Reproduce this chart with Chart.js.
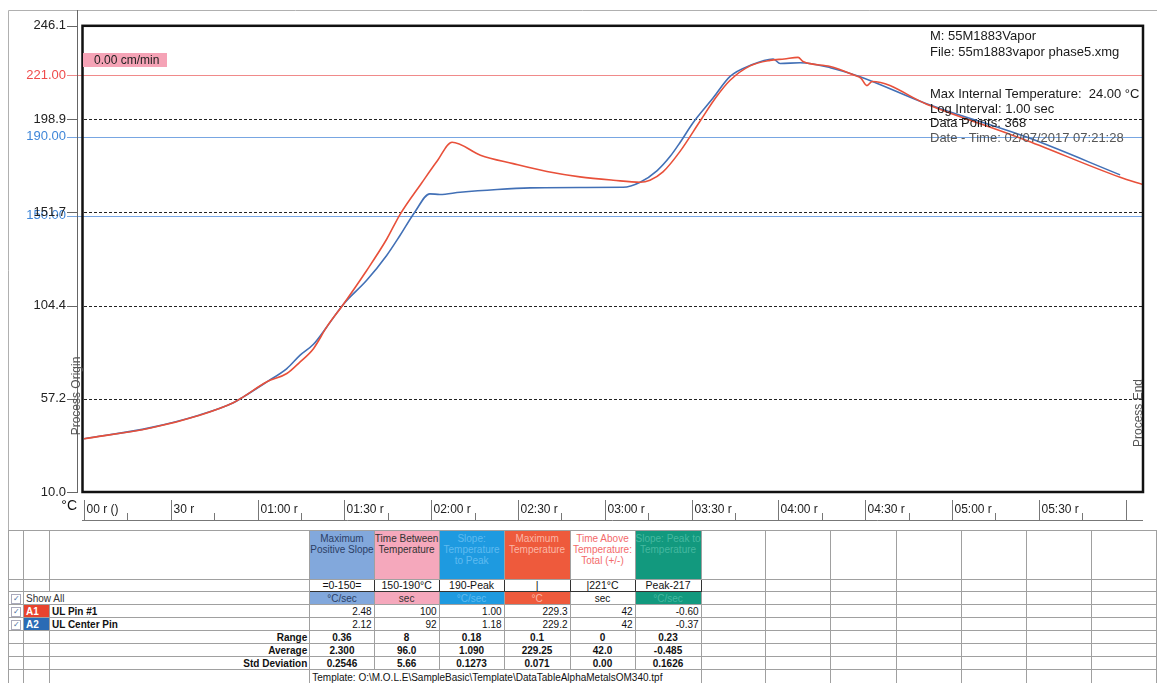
<!DOCTYPE html>
<html>
<head>
<meta charset="utf-8">
<script src="https://cdn.jsdelivr.net/npm/chart.js@4.4.0/dist/chart.umd.min.js"></script>
<style>
  body { margin: 0; background: #fff; font-family: "Liberation Sans", Arial, sans-serif; }
  #wrap { position: relative; width: 1157px; height: 683px; overflow: hidden; background: #fff; }
  #chartBox { position: absolute; left: 0; top: 0; width: 1157px; height: 530px; }
  .info { position: absolute; left: 930px; font-size: 13px; color: #1a1a1a; white-space: nowrap; }
  table { position: absolute; left: 8px; top: 530px; border-collapse: collapse; table-layout: fixed; font-size: 10px; color: #111; }
  td { border: 1px solid #a0a0a0; padding: 0 2px; overflow: hidden; white-space: nowrap; line-height: 11px; }
  tr.hd td { vertical-align: top; text-align: center; padding: 2px 0 0 0; line-height: 11px; }
  tr.rng td.b { border: 1px solid #333; text-align: center; font-size: 10.5px; }
  td.r { text-align: right; }
  td.c { text-align: center; }
  tr.st td { font-weight: bold; }
  .chk { display: inline-block; width: 8px; height: 8px; border: 1px solid #aab; font-size: 8px; line-height: 8px; color: #4a6fa0; text-align: center; }
</style>
</head>
<body>
<div id="wrap">
  <div id="chartBox"><canvas id="profile"></canvas></div>
  <div class="info" style="top:28px;line-height:16px">M: 55M1883Vapor<br>File: 55m1883vapor phase5.xmg</div>
  <div class="info" style="top:87px;line-height:14.7px">Max Internal Temperature:&nbsp; 24.00 °C<br>Log Interval: 1.00 sec<br>Data Points: 368<br><span style="color:#555">Date - Time: 02/07/2017 07:21:28</span></div>
  <table id="stats">
    <colgroup>
      <col style="width:15px"><col style="width:26px"><col style="width:261px">
      <col style="width:64px"><col style="width:65px"><col style="width:65px"><col style="width:66px"><col style="width:65px"><col style="width:65px">
      <col style="width:65px"><col style="width:65px"><col style="width:66px"><col style="width:65px"><col style="width:66px"><col style="width:65px"><col style="width:65px">
    </colgroup>
  </table>
</div>
<script>
// temperature profile, time in seconds
const redTime = [0, 23, 40, 51.6, 55.1, 63.2, 70.1, 74.7, 79.3, 83.9, 89.6, 97.7, 104.6, 109.2, 116.7, 122, 127.2, 137, 148.3, 160,
  171.4, 182.9, 192.2, 195.6, 200.1, 206, 213, 218.5, 223.3, 230.2, 237.1, 242, 246.8, 248.5, 257.9, 266, 268.5, 270.6, 272.4, 291.4, 326, 358.1, 366];
const redTemp = [37, 42.4, 48.9, 55.2, 58.2, 65.8, 70.0, 75.9, 82.6, 93.6, 105.0, 122.2, 138.0, 150.5, 166.5, 177.5, 187.1, 180.6, 176.3, 172.3,
  169.6, 167.9, 166.9, 167.9, 172.1, 182.5, 198.0, 210.0, 218.5, 225.8, 228.6, 229.3, 230.1, 228.0, 225.5, 221.2, 219.6, 215.8, 217.9, 206.3, 187.9, 169.4, 165.7];
const blueTime = [0, 23, 40, 51.6, 55.1, 63.2, 70.1, 74.7, 79.3, 83.9, 89.6, 97.7, 104.6, 109.2, 114.3, 119.5, 123, 130, 142.8, 154.2,
  171.4, 186.3, 192.2, 198.1, 202.6, 206, 210.5, 217.4, 223.3, 230.2, 238.2, 240.6, 247.5, 257.9, 268.2, 291.4, 326, 358.1];
const blueTemp = [37, 42.6, 49, 55.2, 58.2, 65.8, 72.5, 79.3, 84.8, 93.6, 105.0, 117.2, 129.8, 139.9, 151.7, 161.0, 160.7, 161.8, 163.2, 164.0,
  164.2, 164.3, 166.9, 172.8, 180.0, 187.0, 197.0, 209.5, 220.5, 226.0, 229.3, 227.0, 227.4, 224.9, 220.3, 206.5, 189.6, 170.6];

const yTickValues = [10.0, 57.2, 104.4, 151.7, 198.9, 246.1];
const gridValues = [57.2, 104.4, 151.7, 198.9];
const limitValues = [150, 190, 221];
const xTickSeconds = [0, 30, 60, 90, 120, 150, 180, 210, 240, 270, 300, 330, 360];
const xTickLabels = ['00 r ()', '30 r', '01:00 r', '01:30 r', '02:00 r', '02:30 r', '03:00 r', '03:30 r', '04:00 r', '04:30 r', '05:00 r', '05:30 r', ''];

// data table
const statCols = ['Maximum<br>Positive Slope', 'Time Between<br>Temperature', 'Slope:<br>Temperature<br>to Peak', 'Maximum<br>Temperature', 'Time Above<br>Temperature:<br>Total (+/-)', 'Slope: Peak to<br>Temperature'];
const statRanges = ['=0-150=', '150-190°C', '190-Peak', '|', '|221°C', 'Peak-217'];
const statUnits = ['°C/sec', 'sec', '°C/sec', '°C', 'sec', '°C/sec'];
const pin1 = ['2.48', '100', '1.00', '229.3', '42', '-0.60'];
const pin2 = ['2.12', '92', '1.18', '229.2', '42', '-0.37'];
const rangeRow = ['0.36', '8', '0.18', '0.1', '0', '0.23'];
const averageRow = ['2.300', '96.0', '1.090', '229.25', '42.0', '-0.485'];
const stdRow = ['0.2546', '5.66', '0.1273', '0.071', '0.00', '0.1626'];

const RED = '#e8503a';
const BLUE = '#4270b6';
const limitColors = { 150: '#78a6e2', 190: '#78a6e2', 221: '#f08a8a' };
const limitText = { 150: '#3f86d8', 190: '#3f86d8', 221: '#ef4b4b' };

const headBg = ['#82a8dc', '#f5a8bc', '#1e9ae0', '#ee5a3c', '#ffffff', '#12997e'];
const headFg = ['#2c3f66', '#333', '#5fbaf0', '#fbb7a6', '#f36b6b', '#45b8a0'];

// ---------- table ----------
{
  const tbl = document.getElementById('stats');
  const blanks = n => '<td></td>'.repeat(n);
  const chk = '<span class="chk">✓</span>';
  let h = '';
  h += '<tr class="hd" style="height:49px">' + blanks(3) +
    statCols.map((t, i) => `<td style="background:${headBg[i]};color:${headFg[i]}">${t}</td>`).join('') + blanks(7) + '</tr>';
  h += '<tr class="rng" style="height:12px">' + blanks(3) + statRanges.map(t => `<td class="b">${t}</td>`).join('') + blanks(7) + '</tr>';
  h += '<tr style="height:12px"><td>' + chk + '</td><td colspan="2" style="color:#333">Show All</td>' +
    statUnits.map((t, i) => `<td class="c" style="background:${headBg[i]};color:${i === 4 ? '#111' : headFg[i]}">${t}</td>`).join('') + blanks(7) + '</tr>';
  h += '<tr style="height:13px"><td>' + chk + '</td><td style="background:#e8432d;color:#fff;font-weight:bold">A1</td><td style="font-weight:bold">UL Pin #1</td>' +
    pin1.map(t => `<td class="r">${t}</td>`).join('') + blanks(7) + '</tr>';
  h += '<tr style="height:13px"><td>' + chk + '</td><td style="background:#2a6bb5;color:#fff;font-weight:bold">A2</td><td style="font-weight:bold">UL Center Pin</td>' +
    pin2.map(t => `<td class="r">${t}</td>`).join('') + blanks(7) + '</tr>';
  [['Range', rangeRow], ['Average', averageRow], ['Std Deviation', stdRow]].forEach(([name, vals]) => {
    h += '<tr class="st" style="height:13px">' + blanks(2) + `<td class="r">${name}</td>` +
      vals.map(t => `<td class="c">${t}</td>`).join('') + '<td></td>'.repeat(7) + '</tr>';
  });
  h += '<tr style="height:15px">' + blanks(3) +
    '<td colspan="6">Template: O:\\M.O.L.E\\SampleBasic\\Template\\DataTableAlphaMetalsOM340.tpf</td>' + blanks(7) + '</tr>';
  tbl.insertAdjacentHTML('beforeend', h);
}

// ---------- chart ----------
Chart.defaults.font.family = '"Liberation Sans", Arial, sans-serif';

const profileDecor = {
  id: 'profileDecor',
  beforeDatasetsDraw(chart) {
    const { ctx, chartArea: a, scales: { y } } = chart;
    ctx.save();
    ctx.lineWidth = 1;
    ctx.strokeStyle = '#222';
    ctx.setLineDash([3, 2]);
    gridValues.forEach(v => {
      const py = Math.round(y.getPixelForValue(v)) + 0.5;
      ctx.beginPath(); ctx.moveTo(a.left, py); ctx.lineTo(a.right, py); ctx.stroke();
    });
    ctx.setLineDash([]);
    limitValues.forEach(v => {
      const py = Math.round(y.getPixelForValue(v)) + 0.5;
      ctx.strokeStyle = limitColors[v];
      ctx.beginPath(); ctx.moveTo(67, py); ctx.lineTo(a.right, py); ctx.stroke();
    });
    ctx.restore();
  },
  afterDraw(chart) {
    const { ctx, chartArea: a, scales: { x, y } } = chart;
    ctx.save();
    // outer frame
    ctx.strokeStyle = '#b0b0b0';
    ctx.lineWidth = 1;
    ctx.beginPath(); ctx.moveTo(8.5, 530); ctx.lineTo(8.5, 10.5); ctx.lineTo(1157, 10.5); ctx.stroke();
    // y axis line and stubs
    ctx.strokeStyle = '#666';
    ctx.beginPath(); ctx.moveTo(77.5, 10); ctx.lineTo(77.5, a.bottom); ctx.stroke();
    yTickValues.forEach(v => {
      const py = Math.round(y.getPixelForValue(v)) + 0.5;
      ctx.beginPath(); ctx.moveTo(67, py); ctx.lineTo(78, py); ctx.stroke();
    });
    // plot border
    ctx.strokeStyle = '#111';
    ctx.lineWidth = 2.5;
    ctx.strokeRect(82.5, a.top, a.right - 82.5, a.bottom - a.top);
    // x axis row
    ctx.lineWidth = 1;
    ctx.strokeStyle = '#777';
    ctx.beginPath(); ctx.moveTo(82, 520.5); ctx.lineTo(a.right, 520.5); ctx.stroke();
    ctx.font = '12px "Liberation Sans", Arial, sans-serif';
    ctx.fillStyle = '#222';
    ctx.textBaseline = 'middle';
    ctx.textAlign = 'left';
    xTickSeconds.forEach((s, i) => {
      const px = Math.round(x.getPixelForValue(s)) + 0.5;
      ctx.beginPath(); ctx.moveTo(px, 500); ctx.lineTo(px, 520); ctx.stroke();
      ctx.fillText(xTickLabels[i], px + 2, 510);
      if (s < 360) {
        const mx = Math.round(x.getPixelForValue(s + 15)) + 0.5;
        ctx.beginPath(); ctx.moveTo(mx, 513); ctx.lineTo(mx, 520); ctx.stroke();
      }
    });
    ctx.font = '14px "Liberation Sans", Arial, sans-serif';
    ctx.fillStyle = '#111';
    ctx.textAlign = 'right';
    ctx.fillText('°C', 77, 506);
    // process markers
    ctx.font = '12px "Liberation Sans", Arial, sans-serif';
    ctx.fillStyle = '#555';
    ctx.textAlign = 'center';
    ctx.save(); ctx.translate(77, 396); ctx.rotate(-Math.PI / 2); ctx.fillText('Process Origin', 0, 0); ctx.restore();
    ctx.save(); ctx.translate(1139, 413); ctx.rotate(-Math.PI / 2); ctx.fillText('Process End', 0, 0); ctx.restore();
    // conveyor speed tag
    ctx.fillStyle = '#f5a3b6';
    ctx.fillRect(83, 53, 84, 14);
    ctx.fillStyle = '#222';
    ctx.textAlign = 'left';
    ctx.fillText('0.00 cm/min', 94, 60.5);
    ctx.restore();
  }
};

const toPoints = (ts, vs) => ts.map((t, i) => ({ x: t, y: vs[i] }));

new Chart(document.getElementById('profile'), {
  type: 'line',
  data: {
    datasets: [
      { label: 'UL Pin #1', data: toPoints(redTime, redTemp), borderColor: RED, borderWidth: 1.6, pointRadius: 0, cubicInterpolationMode: 'monotone' },
      { label: 'UL Center Pin', data: toPoints(blueTime, blueTemp), borderColor: BLUE, borderWidth: 1.6, pointRadius: 0, cubicInterpolationMode: 'monotone' }
    ]
  },
  options: {
    responsive: true,
    maintainAspectRatio: false,
    animation: false,
    events: [],
    layout: { padding: { top: 25, right: 14, bottom: 38, left: 0 } },
    plugins: { legend: { display: false }, tooltip: { enabled: false } },
    scales: {
      x: { type: 'linear', min: 0, max: 366, display: false },
      y: {
        min: 10, max: 246.1,
        afterFit: s => { s.width = 84; },
        afterBuildTicks: s => {
          s.ticks = [...yTickValues, ...limitValues].sort((p, q) => p - q).map(v => ({ value: v }));
        },
        grid: { display: false, drawTicks: false },
        border: { display: false },
        ticks: {
          autoSkip: false,
          padding: 18,
          font: { size: 13 },
          color: c => limitText[c.tick.value] || '#222',
          callback: v => limitValues.includes(v) ? v.toFixed(2) : v.toFixed(1)
        }
      }
    }
  },
  plugins: [profileDecor]
});
</script>
</body>
</html>
